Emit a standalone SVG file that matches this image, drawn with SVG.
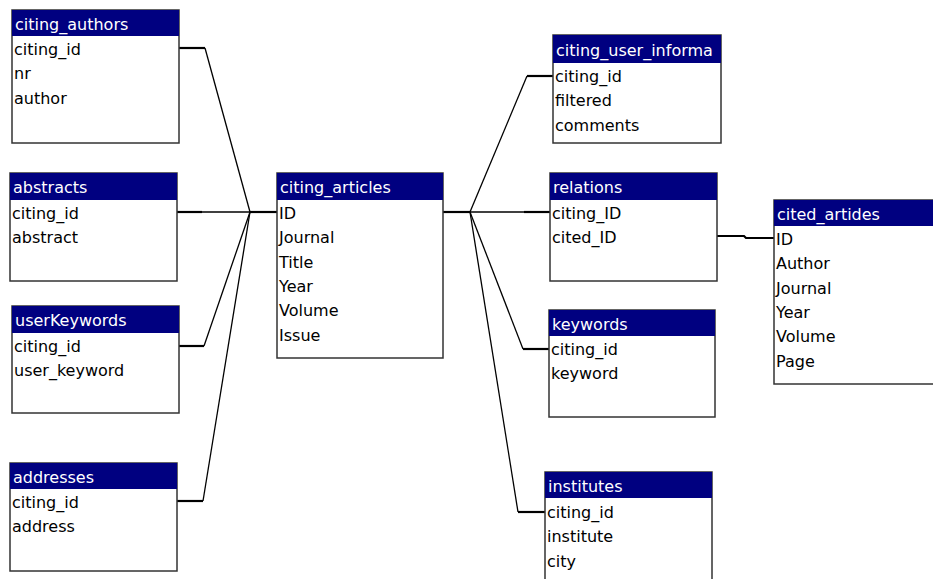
<svg xmlns="http://www.w3.org/2000/svg" width="933" height="579" viewBox="0 0 933 579">
<style>
.body{fill:#fff;stroke:#333;stroke-width:1.5}
.head{fill:#000080}
.ht{font-family:"DejaVu Sans",sans-serif;font-size:16px;fill:#fff}
.ft{font-family:"DejaVu Sans",sans-serif;font-size:16px;fill:#000}
.ln{fill:none;stroke:#000;stroke-width:1.3}
.stub{fill:none;stroke:#000;stroke-width:2.2}
</style>
<rect width="933" height="579" fill="#fff"/>
<g id="connectors">
<polyline class="ln" points="205,48 250,212"/>
<polyline class="stub" points="179,48 205,48"/>
<polyline class="ln" points="202,212 277,212"/>
<polyline class="stub" points="177,212 202,212"/>
<polyline class="ln" points="204,346 250,212"/>
<polyline class="stub" points="179,346 204,346"/>
<polyline class="ln" points="203,501 250,212"/>
<polyline class="stub" points="177,501 203,501"/>
<polyline class="stub" points="250,212 277,212"/>
<polyline class="stub" points="443,212 470,212"/>
<polyline class="ln" points="470,212 527,76"/>
<polyline class="stub" points="527,76 553,76"/>
<polyline class="ln" points="470,212 524,212"/>
<polyline class="stub" points="524,212 550,212"/>
<polyline class="ln" points="470,212 523,349"/>
<polyline class="stub" points="523,349 549,349"/>
<polyline class="ln" points="470,212 518,512"/>
<polyline class="stub" points="518,512 545,512"/>
<polyline class="stub" points="717,236 744,236 746,238 774,238"/>
</g>
<g id="citing_authors">
<rect class="body" x="12" y="10" width="167" height="133"/>
<rect class="head" x="12" y="10" width="167" height="26"/>
<text class="ht" x="15" y="30">citing_authors</text>
<text class="ft" x="14" y="55">citing_id</text>
<text class="ft" x="14" y="79.3">nr</text>
<text class="ft" x="14" y="103.6">author</text>
</g>
<g id="abstracts">
<rect class="body" x="10" y="173" width="167" height="108"/>
<rect class="head" x="10" y="173" width="167" height="27"/>
<text class="ht" x="13" y="193">abstracts</text>
<text class="ft" x="12" y="219">citing_id</text>
<text class="ft" x="12" y="243.3">abstract</text>
</g>
<g id="userKeywords">
<rect class="body" x="12" y="306" width="167" height="107"/>
<rect class="head" x="12" y="306" width="167" height="27"/>
<text class="ht" x="15" y="326">userKeywords</text>
<text class="ft" x="14" y="352">citing_id</text>
<text class="ft" x="14" y="376.3">user_keyword</text>
</g>
<g id="addresses">
<rect class="body" x="10" y="463" width="167" height="108"/>
<rect class="head" x="10" y="463" width="167" height="26"/>
<text class="ht" x="13" y="483">addresses</text>
<text class="ft" x="12" y="508">citing_id</text>
<text class="ft" x="12" y="532.3">address</text>
</g>
<g id="citing_articles">
<rect class="body" x="277" y="173" width="166" height="185"/>
<rect class="head" x="277" y="173" width="166" height="27"/>
<text class="ht" x="280" y="193">citing_articles</text>
<text class="ft" x="279" y="219">ID</text>
<text class="ft" x="279" y="243.3">Journal</text>
<text class="ft" x="279" y="267.6">Title</text>
<text class="ft" x="279" y="291.9">Year</text>
<text class="ft" x="279" y="316.2">Volume</text>
<text class="ft" x="279" y="340.5">Issue</text>
</g>
<g id="citing_user_informa">
<rect class="body" x="553" y="35" width="168" height="108"/>
<rect class="head" x="553" y="35" width="168" height="28"/>
<text class="ht" x="556" y="56">citing_user_informa</text>
<text class="ft" x="555" y="82">citing_id</text>
<text class="ft" x="555" y="106.3">filtered</text>
<text class="ft" x="555" y="130.6">comments</text>
</g>
<g id="relations">
<rect class="body" x="550" y="173" width="167" height="108"/>
<rect class="head" x="550" y="173" width="167" height="27"/>
<text class="ht" x="553" y="193">relations</text>
<text class="ft" x="552" y="219">citing_ID</text>
<text class="ft" x="552" y="243.3">cited_ID</text>
</g>
<g id="cited_artides">
<rect class="body" x="774" y="200" width="170" height="184"/>
<rect class="head" x="774" y="200" width="170" height="26"/>
<text class="ht" x="777" y="220">cited_artides</text>
<text class="ft" x="776" y="245">ID</text>
<text class="ft" x="776" y="269.3">Author</text>
<text class="ft" x="776" y="293.6">Journal</text>
<text class="ft" x="776" y="317.9">Year</text>
<text class="ft" x="776" y="342.2">Volume</text>
<text class="ft" x="776" y="366.5">Page</text>
</g>
<g id="keywords">
<rect class="body" x="549" y="310" width="166" height="107"/>
<rect class="head" x="549" y="310" width="166" height="26"/>
<text class="ht" x="552" y="330">keywords</text>
<text class="ft" x="551" y="355">citing_id</text>
<text class="ft" x="551" y="379.3">keyword</text>
</g>
<g id="institutes">
<rect class="body" x="545" y="472" width="167" height="120"/>
<rect class="head" x="545" y="472" width="167" height="26"/>
<text class="ht" x="548" y="492">institutes</text>
<text class="ft" x="547" y="518">citing_id</text>
<text class="ft" x="547" y="542.3">institute</text>
<text class="ft" x="547" y="566.6">city</text>
</g>
</svg>
